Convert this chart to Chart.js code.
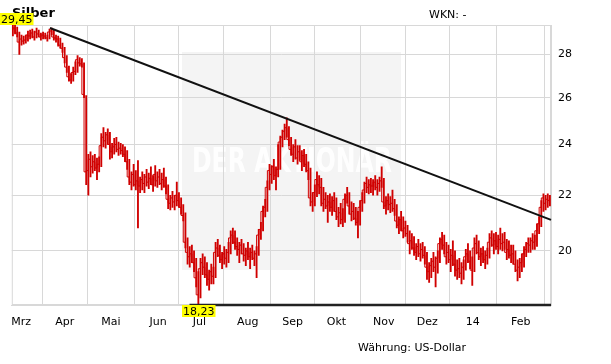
<!DOCTYPE html>
<html>
<head>
<meta charset="utf-8">
<script src="https://cdn.jsdelivr.net/npm/chart.js@4.4.1/dist/chart.umd.min.js"></script>
<style>
html, body { margin: 0; padding: 0; background: #fff; }
</style>
</head>
<body>
<canvas id="myChart" width="611" height="364"></canvas>
<script>
// Silber, Tagesbalken Feb 2013 - Feb 2014 (Werte aus dem Bild geschaetzt)
var closes = [29.20,29.30,29.05,28.60,28.75,28.65,28.70,28.95,28.90,29.05,
 28.85,29.10,29.00,28.85,28.95,28.90,28.80,29.10,29.15,28.85,
 28.80,28.75,28.45,28.30,27.85,27.40,26.95,26.80,27.15,27.20,
 27.75,27.60,27.55,26.15,22.90,22.95,23.40,23.10,23.30,23.05,
 23.20,23.95,24.30,24.15,24.40,24.00,23.70,23.90,24.00,23.80,
 23.85,23.75,23.60,23.30,22.70,22.50,22.80,22.40,22.55,22.35,
 22.60,22.45,22.70,22.50,22.65,22.40,22.80,22.55,22.70,22.45,
 22.60,22.35,21.85,21.70,21.90,21.75,22.00,21.80,21.55,21.25,
 20.30,19.95,19.80,19.90,19.60,19.10,18.55,19.40,19.60,19.45,
 19.20,19.05,19.30,19.15,19.95,20.10,19.85,19.70,19.90,19.75,
 19.95,20.45,20.55,20.30,20.15,20.05,20.20,19.90,19.85,20.00,
 19.80,19.95,19.75,19.90,20.55,20.75,21.40,21.55,22.30,22.95,
 22.80,23.10,22.75,23.00,24.10,24.30,24.55,24.70,24.20,23.80,
 23.60,23.90,23.45,23.70,23.30,23.55,23.20,22.95,21.90,21.75,
 22.10,22.60,22.40,22.30,21.70,21.85,21.60,21.75,21.55,21.80,
 21.40,21.20,21.35,21.10,21.85,22.00,21.60,21.30,21.40,21.15,
 21.00,21.55,21.80,22.20,22.45,22.30,22.40,22.35,22.50,22.30,
 22.45,22.55,21.75,21.60,21.80,21.65,21.70,21.50,21.05,20.90,
 21.10,20.70,20.80,20.60,20.25,20.35,20.10,19.95,20.15,19.90,
 20.05,19.85,19.45,19.30,19.50,19.65,19.45,19.75,20.25,20.40,
 20.20,19.80,19.95,19.70,19.85,19.55,19.35,19.40,19.25,19.45,
 19.80,19.90,19.65,19.35,20.10,20.25,19.95,19.80,19.90,19.70,
 19.85,20.30,20.45,20.20,20.35,20.15,20.40,20.25,20.30,19.95,
 20.05,19.85,19.90,19.55,19.35,19.45,19.60,19.90,20.05,20.25,
 20.20,20.35,20.30,20.70,20.95,21.55,21.90,21.70,21.85,21.80];

var highs = [29.45,29.45,29.35,29.10,28.95,28.90,28.95,29.15,29.20,29.25,
 29.15,29.30,29.20,29.05,29.10,29.05,28.95,29.25,29.30,29.20,
 28.95,28.90,28.80,28.55,28.35,27.95,27.45,27.10,27.40,27.65,
 27.95,27.85,27.80,27.60,26.10,23.60,23.70,23.55,23.60,23.45,
 23.50,24.45,24.70,24.50,24.65,24.50,24.05,24.25,24.30,24.10,
 24.05,24.00,23.90,23.75,23.40,22.90,23.20,22.95,23.35,22.70,
 22.90,22.80,23.00,22.85,23.10,22.75,23.15,22.90,23.00,22.85,
 23.05,22.70,22.40,22.00,22.15,22.00,22.50,22.10,21.90,21.65,
 21.35,20.45,20.15,20.20,20.00,19.75,19.30,19.75,19.90,19.80,
 19.60,19.35,19.55,19.45,20.30,20.40,20.20,19.95,20.15,20.05,
 20.30,20.70,20.80,20.70,20.45,20.30,20.40,20.25,20.10,20.30,
 20.10,20.20,20.00,20.15,20.75,21.00,21.60,21.85,22.55,23.20,
 23.15,23.40,23.10,24.00,24.35,24.60,24.85,25.12,24.75,24.30,
 24.00,24.20,23.95,23.95,23.75,23.80,23.60,23.30,23.05,22.10,
 22.40,22.90,22.75,22.65,22.30,22.10,22.00,22.05,21.95,22.10,
 21.90,21.55,21.70,21.50,22.05,22.30,22.10,21.75,21.70,21.55,
 21.40,21.80,22.10,22.50,22.70,22.60,22.65,22.60,22.75,22.60,
 22.70,23.10,22.65,21.95,22.05,21.95,22.20,21.85,21.65,21.20,
 21.40,21.20,21.05,20.90,20.70,20.60,20.50,20.25,20.40,20.25,
 20.30,20.15,19.95,19.60,19.75,19.95,19.80,20.00,20.45,20.65,
 20.55,20.30,20.20,20.05,20.35,20.00,19.70,19.75,19.60,19.70,
 20.05,20.25,20.00,19.80,20.45,20.55,20.35,20.10,20.15,20.00,
 20.10,20.60,20.70,20.60,20.65,20.55,20.80,20.60,20.65,20.40,
 20.35,20.20,20.20,20.00,19.70,19.75,19.90,20.15,20.30,20.45,
 20.45,20.60,20.55,20.95,21.20,21.80,22.05,22.00,22.05,22.00];

var lows = [28.90,29.00,28.85,28.00,28.45,28.50,28.55,28.65,28.75,28.80,
 28.70,28.80,28.85,28.70,28.75,28.75,28.65,28.75,28.95,28.70,
 28.60,28.40,28.30,28.10,27.60,27.15,26.75,26.65,26.75,27.05,
 27.15,27.45,27.40,26.00,22.40,22.00,22.70,22.85,22.95,22.60,
 22.90,23.10,23.90,23.85,24.00,23.40,23.45,23.60,23.70,23.55,
 23.60,23.50,23.30,23.00,22.40,22.20,22.35,22.20,20.80,22.10,
 22.20,22.10,22.35,22.25,22.40,22.15,22.35,22.30,22.40,22.20,
 22.30,22.05,21.50,21.45,21.55,21.45,21.60,21.55,21.30,21.05,
 20.10,19.55,19.45,19.60,19.30,18.80,18.23,18.45,19.20,19.10,
 18.85,18.70,18.90,18.90,19.10,19.80,19.60,19.40,19.55,19.45,
 19.60,19.90,20.25,20.05,19.85,19.60,19.90,19.65,19.50,19.70,
 19.40,19.70,19.50,19.10,19.85,20.40,20.70,21.20,21.40,22.20,
 22.45,22.60,22.20,22.70,23.00,23.90,24.20,24.30,23.95,23.55,
 23.30,23.40,23.20,23.35,22.95,23.10,22.90,22.60,21.60,21.40,
 21.60,21.95,22.05,21.60,21.40,21.50,21.00,21.40,21.25,21.40,
 21.10,20.85,20.95,20.85,21.00,21.70,21.30,21.05,21.10,20.90,
 20.45,20.90,21.40,21.70,22.10,22.05,22.10,22.00,22.20,22.00,
 22.15,22.30,21.50,21.30,21.45,21.35,21.40,21.25,20.80,20.60,
 20.70,20.45,20.50,20.30,19.90,20.05,19.85,19.70,19.80,19.65,
 19.75,19.55,19.05,18.95,19.10,19.30,18.80,19.25,19.60,20.05,
 19.90,19.55,19.60,19.30,19.50,19.15,19.05,19.10,18.90,19.05,
 19.35,19.60,19.40,18.85,19.30,19.90,19.70,19.50,19.60,19.40,
 19.55,19.75,20.15,19.90,20.05,19.90,20.05,20.00,20.05,19.70,
 19.75,19.60,19.55,19.30,19.00,19.10,19.30,19.45,19.80,19.95,
 19.95,20.05,20.05,20.15,20.60,20.85,21.40,21.45,21.55,21.60];

// Monatsmarken (Position in Handelstagen) und Beschriftung
var monthPos = [4.3, 24.6, 45.9, 67.8, 87.0, 109.4, 130.2, 150.5, 172.5, 192.6, 213.7, 236.0];
var monthLabels = ['Mrz', 'Apr', 'Mai', 'Jun', 'Jul', 'Aug', 'Sep', 'Okt', 'Nov', 'Dez', '14', 'Feb'];
var yTicks = [20, 22, 24, 26, 28];

// Trendlinien
var trendX = [17.7, 250];
var trendY = [29.30, 21.09];
var supportX = [82.4, 250];
var supportY = [18.23, 18.23];

var maxVal = 29.45, maxIdx = 1;
var minVal = 18.23, minIdx = 86;

console.log(closes.length, highs.length, lows.length);

var red = "#d00000";
var font = "'DejaVu Sans', Verdana, sans-serif";

var barData = [], closeData = [];
for (var i = 0; i < closes.length; i++) {
    barData.push({ x: i + 0.5, y: [lows[i], highs[i]] });
    closeData.push({ x: i + 0.5, y: closes[i] });
}
var trendData = [], supportData = [];
for (var j = 0; j < trendX.length; j++) {
    trendData.push({ x: trendX[j], y: trendY[j] });
    supportData.push({ x: supportX[j], y: supportY[j] });
}

function yellowBox(ctx, txt, cx, top) {
    ctx.font = "11px " + font;
    var w = ctx.measureText(txt).width + 2;
    var left = Math.max(0, Math.round(cx - w / 2));
    ctx.fillStyle = "#ffff00";
    ctx.fillRect(left, top, w, 12);
    ctx.fillStyle = "#000";
    ctx.textAlign = "left";
    ctx.textBaseline = "alphabetic";
    ctx.fillText(txt, left + 1, top + 10);
}

var decoPlugin = {
    id: "deco",
    beforeDraw: function(chart) {
        var ctx = chart.ctx;
        ctx.save();
        ctx.fillStyle = "#fff";
        ctx.fillRect(0, 0, chart.width, chart.height);
        // Wasserzeichen
        ctx.fillStyle = "#f4f4f4";
        ctx.fillRect(182, 52, 219, 218);
        ctx.fillStyle = "rgba(255,255,255,0.9)";
        ctx.font = "bold 34px 'Liberation Sans Narrow', 'DejaVu Sans Condensed', sans-serif";
        var t = "DER AKTIONÄR";
        var tw = ctx.measureText(t).width;
        ctx.translate(192, 172);
        ctx.scale(200 / tw, 1);
        ctx.textBaseline = "alphabetic";
        ctx.fillText(t, 0, 0);
        ctx.restore();
    },
    beforeDatasetsDraw: function(chart) {
        var a = chart.chartArea, ctx = chart.ctx;
        ctx.save();
        ctx.strokeStyle = "#d8d8d8";
        ctx.lineWidth = 1;
        ctx.strokeRect(a.left + 0.5, a.top + 0.5, a.right - a.left - 1, a.bottom - a.top - 1);
        ctx.restore();
    },
    afterDraw: function(chart) {
        var ctx = chart.ctx;
        var xs = chart.scales.x, ys = chart.scales.y;
        ctx.save();
        ctx.fillStyle = "#000";
        ctx.font = "bold 13px " + font;
        ctx.textBaseline = "alphabetic";
        ctx.fillText("Silber", 12, 17);
        ctx.font = "11px " + font;
        ctx.fillText("WKN: -", 429, 18);
        ctx.fillText("Währung: US-Dollar", 358, 351);
        yellowBox(ctx, "29,45", xs.getPixelForValue(maxIdx + 0.5) + 2, ys.getPixelForValue(maxVal) - 12);
        yellowBox(ctx, "18,23", xs.getPixelForValue(minIdx + 0.5), ys.getPixelForValue(minVal));
        ctx.restore();
    }
};

var ctx = document.getElementById("myChart").getContext("2d");
var myChart = new Chart(ctx, {
    type: "bar",
    data: {
        datasets: [{
            type: "line",
            data: trendData,
            borderColor: "#111",
            borderWidth: 2,
            pointRadius: 0,
            clip: false
        }, {
            type: "line",
            data: supportData,
            borderColor: "#222",
            borderWidth: 2.5,
            pointRadius: 0,
            clip: false
        }, {
            type: "line",
            data: closeData,
            borderColor: red,
            borderWidth: 1,
            pointRadius: 0,
            stepped: "after"
        }, {
            type: "bar",
            data: barData,
            backgroundColor: red,
            barThickness: 1.2,
            grouped: false
        }]
    },
    options: {
        responsive: false,
        animation: false,
        devicePixelRatio: 1,
        layout: { padding: { left: 10, top: 25, right: 0, bottom: 0 } },
        plugins: { legend: { display: false }, tooltip: { enabled: false } },
        scales: {
            x: {
                type: "linear",
                min: 0,
                max: 250,
                offset: false,
                afterBuildTicks: function(s) {
                    s.ticks = monthPos.map(function(v) { return { value: v }; });
                },
                afterFit: function(s) { s.height = 59; },
                ticks: {
                    autoSkip: false,
                    maxRotation: 0,
                    padding: 11,
                    color: "#000",
                    font: { family: font, size: 11 },
                    callback: function(v, idx) { return monthLabels[idx]; }
                },
                grid: { color: "#d8d8d8", drawTicks: false },
                border: { color: "#d8d8d8" }
            },
            y: {
                type: "logarithmic",
                position: "right",
                min: minVal,
                max: maxVal,
                afterBuildTicks: function(s) {
                    s.ticks = yTicks.map(function(v) { return { value: v }; });
                },
                afterFit: function(s) { s.width = 60; },
                ticks: {
                    padding: 7,
                    color: "#000",
                    font: { family: font, size: 11 },
                    callback: function(v) { return String(v); }
                },
                grid: { color: "#d8d8d8", drawTicks: false },
                border: { color: "#d8d8d8" }
            }
        }
    },
    plugins: [decoPlugin]
});
</script>
</body>
</html>
